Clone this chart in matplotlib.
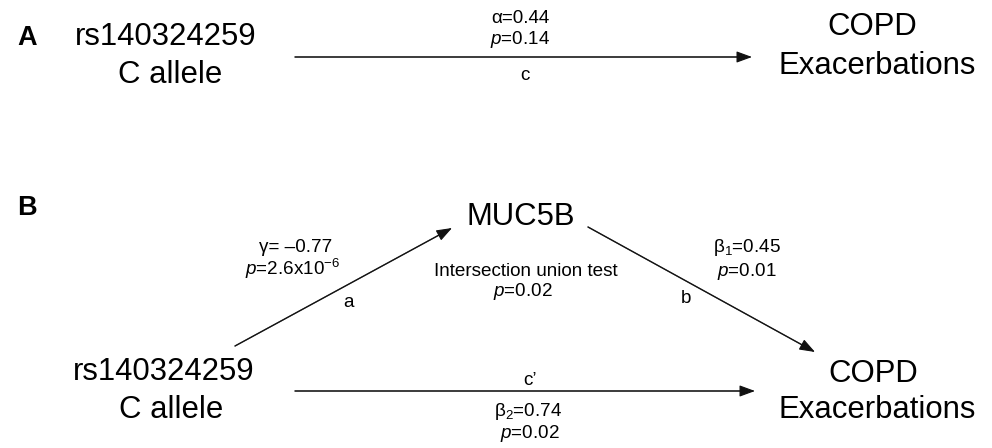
import matplotlib
matplotlib.use("Agg")
import matplotlib.pyplot as plt
from matplotlib.patches import FancyArrowPatch

plt.rcParams['font.family'] = ['Liberation Sans', 'DejaVu Sans']
plt.rcParams['mathtext.fontset'] = 'custom'
plt.rcParams['mathtext.rm'] = 'Liberation Sans'
plt.rcParams['mathtext.it'] = 'Liberation Sans:italic'

# ---- content ----
panel_labels = ["A", "B"]
exposure = ["rs140324259", "C allele"]
mediator = "MUC5B"
outcome = ["COPD", "Exacerbations"]
path_a_coef = [r"γ= –0.77", r"$\it{p}$=2.6x10$^{-6}$"]
path_b_coef = [r"β$_1$=0.45", r"$\it{p}$=0.01"]
path_c_coef = [r"α=0.44", r"$\it{p}$=0.14"]
path_cp_coef = [r"β$_2$=0.74", r"$\it{p}$=0.02"]
iut_text = ["Intersection union test", r"$\it{p}$=0.02"]
path_names = ["c", "a", "b", "c\u2019"]

BIG = 22.4
SMALL = 13.6

fig = plt.figure(figsize=(9.92, 4.48), dpi=100)
ax = fig.add_axes([0, 0, 1, 1])
ax.set_xlim(0, 992)
ax.set_ylim(448, 0)
ax.axis('off')

def txt(x, y, s, size, **kw):
    ax.text(x, y, s, fontsize=size, ha='center', va='baseline', color='black', **kw)

def arrow(p0, p1):
    line = FancyArrowPatch(p0, p1, arrowstyle='-', color='#444444', lw=1.0,
                           shrinkA=0, shrinkB=2)
    ax.add_patch(line)
    head = FancyArrowPatch(p0, p1, arrowstyle='-|>,head_length=0.6,head_width=0.22',
                           mutation_scale=16, color='#111111', lw=0.8,
                           shrinkA=0, shrinkB=0)
    head.set_linestyle('-')
    ax.add_patch(head)

# ---- Panel A ----
ax.text(17, 45, panel_labels[0], fontsize=19.5, fontweight='bold', ha='left', va='baseline')
txt(166, 45, exposure[0], BIG)
txt(170, 83, exposure[1], BIG)
txt(872, 35, outcome[0], BIG)
txt(877, 74, outcome[1], BIG)
arrow((295, 57), (752, 57))
txt(520, 23, path_c_coef[0], SMALL)
txt(520, 44, path_c_coef[1], SMALL)
txt(525, 80, path_names[0], SMALL)

# ---- Panel B ----
ax.text(17, 215, panel_labels[1], fontsize=19.5, fontweight='bold', ha='left', va='baseline')
txt(521, 225, mediator, BIG)
txt(164, 380, exposure[0], BIG)
txt(171, 418, exposure[1], BIG)
txt(873, 382, outcome[0], BIG)
txt(877, 418, outcome[1], BIG)

arrow((235, 346), (452, 228))
arrow((588, 227), (815, 352))
arrow((295, 391), (755, 391))

txt(296, 252, path_a_coef[0], SMALL)
txt(293, 275, path_a_coef[1], SMALL)
txt(349, 307, path_names[1], SMALL)

txt(747, 252, path_b_coef[0], SMALL)
txt(747, 276, path_b_coef[1], SMALL)
txt(686, 303, path_names[2], SMALL)

txt(526, 276, iut_text[0], SMALL)
txt(523, 296, iut_text[1], SMALL)

txt(530, 385, path_names[3], SMALL)
txt(528, 416, path_cp_coef[0], SMALL)
txt(530, 438, path_cp_coef[1], SMALL)

fig.savefig("out.png", dpi=100, facecolor='white')
